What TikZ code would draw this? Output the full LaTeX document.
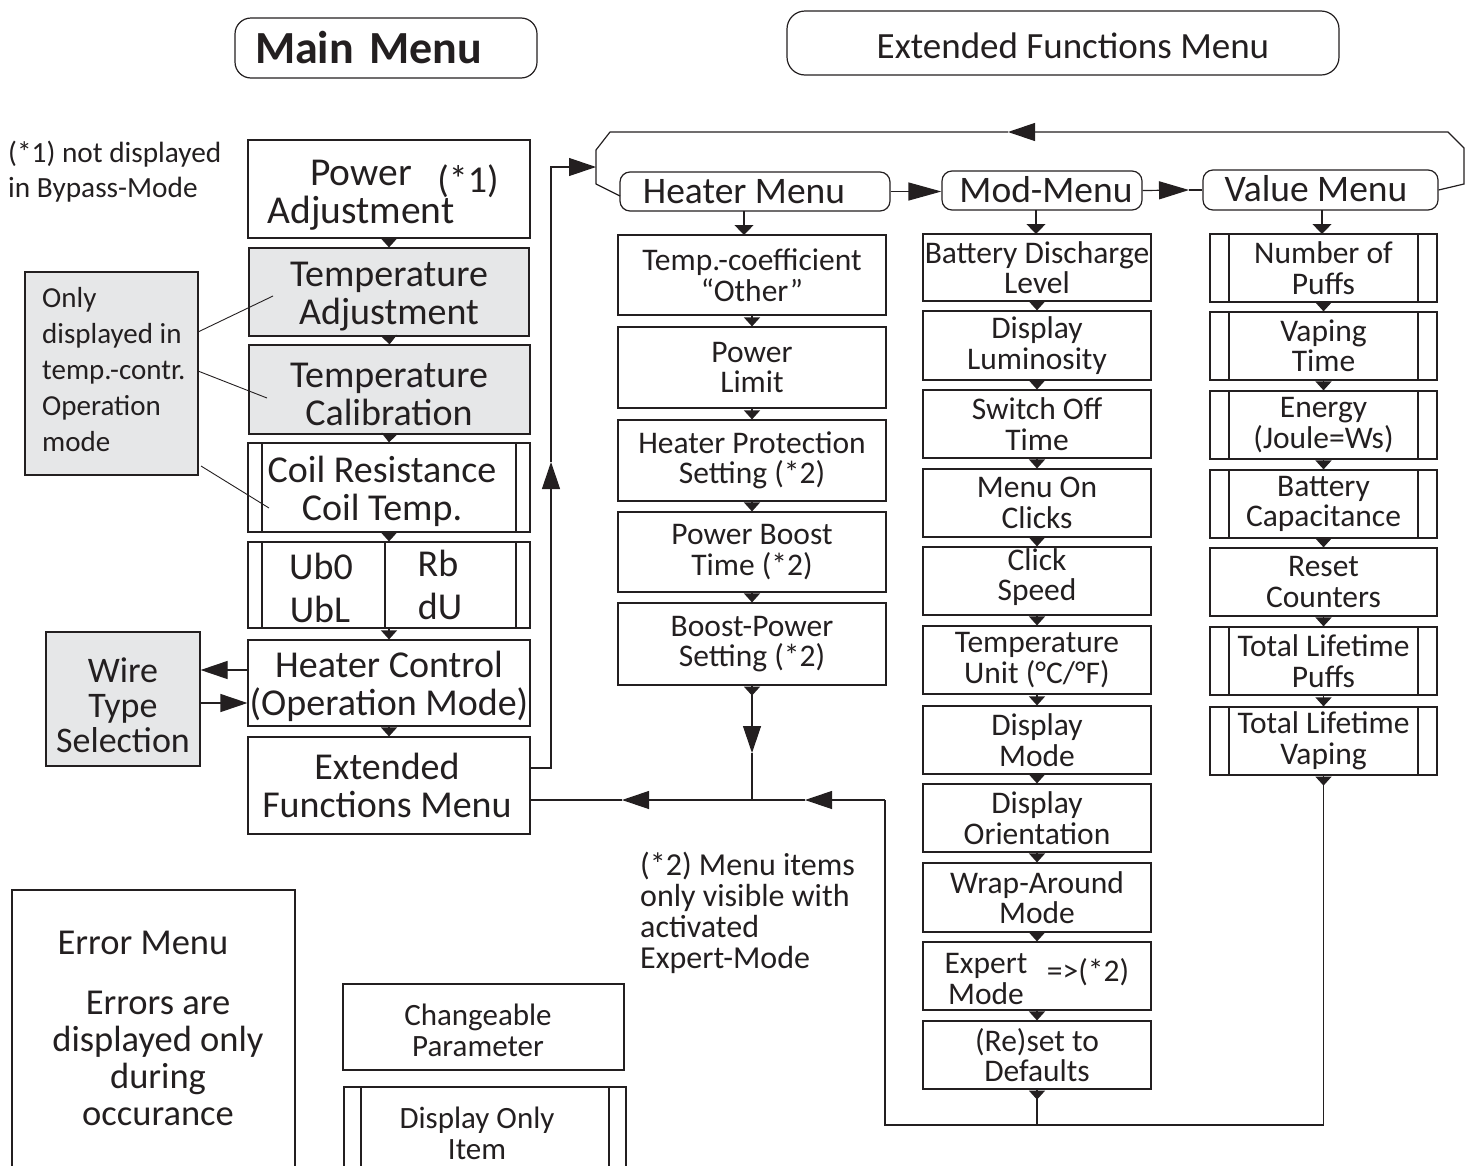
\documentclass[tikz,border=0pt]{standalone}
\usepackage{fontspec}
\setmainfont{Carlito}
\usetikzlibrary{arrows.meta,calc}
\definecolor{ink}{HTML}{231F20}
\definecolor{graybg}{HTML}{E6E7E8}
\newcommand\fntL{\fontsize{38}{38}\selectfont}
\newcommand\fntP{\fontsize{39.5}{38}\selectfont}
\newcommand\fntM{\fontsize{31.5}{30.5}\selectfont}
\newcommand\fntH{\fontsize{37.5}{37.5}\selectfont}
\newcommand\fntT{\fontsize{37}{37}\selectfont}
\newcommand\fntW{\fontsize{36}{35}\selectfont}
\newcommand\fntS{\fontsize{29.3}{35}\selectfont}
\newcommand\fntN{\fontsize{29}{36}\selectfont}
\newcommand\fntG{\fontsize{31}{31}\selectfont}
\newcommand\fntE{\fontsize{36.5}{37}\selectfont}
\newcommand\fntF{\fontsize{32}{31}\selectfont}
\newcommand\bxat[7]{\node[bx,#6,minimum width={(#4)-(#2)},minimum height={(#5)-(#3)}] (#1) at ({((#2)+(#4))/2},{((#3)+(#5))/2}) {#7};}
\tikzset{
  bx/.style={draw=ink, line width=1.2pt, inner sep=0pt, align=center, text=ink},
  txt/.style={inner sep=0pt, align=center, text=ink},
  hdr/.style={rounded corners=10pt, font=\fntH},
  dsp/.style={path picture={\draw[line width=1.2pt, draw=ink]
      ([xshift=#1]path picture bounding box.north west) -- ([xshift=#1]path picture bounding box.south west)
      ([xshift=-#1]path picture bounding box.north east) -- ([xshift=-#1]path picture bounding box.south east);}},
  ln/.style={draw=ink, line width=1.2pt},
  thinln/.style={draw=ink, line width=0.9pt},
  sm/.style={ln, -{Triangle[length=9pt,width=16pt]}},
  hd/.style={ln, -{Triangle[length=10pt,width=19pt]}},
  big/.style={ln, -{Triangle[length=27pt,width=18pt]}},
}
\begin{document}
\begin{tikzpicture}[x=1pt,y=-1pt]
\useasboundingbox (0,0) rectangle (1469,1165);

% ---- titles
\node[bx, rounded corners=16pt, minimum width=302, minimum height=60, text width=262, inner xsep=20pt, align=left, font=\fontsize{46}{46}\bfseries\selectfont] (mainT) at (386,48) {Main Menu};
\bxat{extT}{787}{11}{1339}{75}{rounded corners=18pt}{}
\node[txt, font=\fntT] (extTT) at (1073,46) {Extended Functions Menu};

% ---- main menu column
\bxat{pa}{248}{140}{530}{238}{}{}
\node[txt, font=\fntP] (paT) at (361,195) {Power\\Adjustment};
\node[txt, font=\fntL] (paS) at (468,181) {(*1)};
\bxat{ta}{249}{248}{529}{336}{fill=graybg}{}
\node[txt, font=\fntL] (taT) at (389,297) {Temperature\\Adjustment};
\bxat{tcal}{249}{345}{530}{434}{fill=graybg}{}
\node[txt, font=\fntL] (tcalT) at (389,394) {Temperature\\Calibration};
\bxat{cr}{248}{443}{530}{532}{dsp=14pt}{}
\node[txt, font=\fntL] (crT) at (382,491.5) {Coil Resistance\\Coil Temp.};
\bxat{ub}{248}{542}{530}{628}{dsp=14pt}{}
\coordinate (ubdt) at (385,542);
\coordinate (ubdb) at (385,628);
\draw[ln] (ubdt) -- (ubdb);
\node[txt, font=\fntL] (ub0) at (321,566) {Ub0};
\node[txt, font=\fntL] (ubl) at (320,609) {UbL};
\node[txt, font=\fntL] (rb) at (438,563) {Rb};
\node[txt, font=\fntL] (du) at (440,606) {dU};
\bxat{hc}{248}{640}{530}{726}{}{}
\node[txt, font=\fntL] (hcT) at (389,686.5) {Heater Control\\(Operation Mode)};
\bxat{ef}{248}{737}{530}{834}{}{}
\node[txt, font=\fntL] (efT) at (387,785) {Extended\\Functions Menu};
\bxat{wt}{46}{632}{200}{766}{fill=graybg}{}
\node[txt, font=\fntW] (wtT) at (123,705.5) {Wire\\Type\\Selection};

\foreach \a/\b in {pa/ta, ta/tcal, tcal/cr, cr/ub, ub/hc, hc/ef}
  \draw[sm] (\a.south) -- (\b.north);

% wire type arrows
\coordinate (hcw1) at ([yshift=13pt]hc.west);
\coordinate (hcw2) at ([yshift=-20pt]hc.west);
\draw[big] (hcw1) -- (hcw1 -| wt.east);
\draw[big] (hcw2 -| wt.east) -- (hcw2);

% ---- notes
\node[txt, anchor=west, align=left, font=\fntS] (n1T) at (8,172) {(*1) not displayed\\in Bypass-Mode};
\bxat{nb}{25}{272}{198}{475}{fill=graybg}{}
\node[txt, anchor=west, align=left, font=\fntN] (nbT) at (42,370) {Only\\displayed in\\temp.-contr.\\Operation\\mode};
\coordinate (nl1a) at (198,332); \coordinate (nl1b) at (273,296);
\coordinate (nl2a) at (198,371); \coordinate (nl2b) at (267,398);
\coordinate (nl3a) at (201,466); \coordinate (nl3b) at (269,508);
\draw[thinln] (nl1a) -- (nl1b);
\draw[thinln] (nl2a) -- (nl2b);
\draw[thinln] (nl3a) -- (nl3b);

% ---- sub-menu headers
\bxat{hm}{620}{172}{890}{211}{hdr}{}
\node[txt, font=\fntH] (hmT) at (744,192) {Heater Menu};
\bxat{mm}{942}{171}{1142}{210}{hdr}{}
\node[txt, font=\fntH] (mmT) at (1046,190) {Mod-Menu};
\bxat{vm}{1203}{170}{1438}{210}{hdr}{}
\node[txt, font=\fntH] (vmT) at (1316,189) {Value Menu};

% ---- heater column
\bxat{tc}{618}{235}{886}{315}{font=\fntM}{Temp.-coefficient\\“Other”}
\bxat{pl}{618}{327}{886}{408}{font=\fntM}{Power\\Limit}
\bxat{hp}{618}{420}{886}{501}{font=\fntM}{Heater Protection\\Setting (*2)}
\bxat{pb}{618}{512}{886}{592}{font=\fntM}{Power Boost\\Time (*2)}
\bxat{bp}{618}{603}{886}{685}{font=\fntM}{Boost-Power\\Setting (*2)}
\foreach \a/\b in {tc/pl, pl/hp, hp/pb, pb/bp}
  \draw[sm] (\a.south) -- (\b.north);

% ---- mod column
\bxat{bd}{923}{234}{1151}{301}{font=\fntM}{Battery Discharge\\Level}
\bxat{dl}{923}{311}{1151}{380}{font=\fntM}{Display\\Luminosity}
\bxat{so}{923}{390}{1151}{458}{font=\fntM}{Switch Off\\Time}
\bxat{mo}{923}{469}{1151}{537}{font=\fntM}{Menu On\\Clicks}
\bxat{cs}{923}{547}{1151}{615}{}{}
\node[txt, font=\fntM] (csT) at (1037,577) {Click\\Speed};
\bxat{tu}{923}{626}{1151}{694}{font=\fntM}{Temperature\\Unit (°C/°F)}
\bxat{dm}{923}{706}{1151}{774}{font=\fntM}{Display\\Mode}
\bxat{do}{923}{784}{1151}{852}{font=\fntM}{Display\\Orientation}
\bxat{wa}{923}{863}{1151}{932}{font=\fntM}{Wrap-Around\\Mode}
\bxat{em}{923}{942}{1151}{1010}{}{}
\node[txt, font=\fntM] (emT) at (986,979) {Expert\\Mode};
\node[txt, font=\fntM] (emS) at (1088,972) {=>(*2)};
\bxat{rd}{923}{1021}{1151}{1089}{font=\fntM}{(Re)set to\\Defaults}
\foreach \a/\b in {bd/dl, dl/so, so/mo, mo/cs, cs/tu, tu/dm, dm/do, do/wa, wa/em, em/rd}
  \draw[sm] (\a.south) -- (\b.north);

% ---- value column
\bxat{np}{1210}{234}{1437}{302}{dsp=19pt, font=\fntM}{Number of\\Puffs}
\bxat{vt}{1210}{312}{1437}{380}{dsp=19pt, font=\fntM}{Vaping\\Time}
\bxat{en}{1210}{391}{1437}{459}{dsp=19pt, font=\fntM}{Energy\\(Joule=Ws)}
\bxat{bc}{1210}{470}{1437}{538}{dsp=19pt, font=\fntM}{Battery\\Capacitance}
\bxat{rc}{1210}{548}{1437}{616}{font=\fntM}{Reset\\Counters}
\bxat{tlp}{1210}{627}{1437}{695}{dsp=19pt, font=\fntM}{Total Lifetime\\Puffs}
\bxat{tlv}{1210}{707}{1437}{775}{dsp=19pt, font=\fntM}{Total Lifetime\\Vaping}
\foreach \a/\b in {np/vt, vt/en, en/bc, bc/rc, rc/tlp, tlp/tlv}
  \draw[sm] (\a.south) -- (\b.north);

% ---- header arrows
\coordinate (hmA) at (744,211); \coordinate (hmB) at (744,235);
\coordinate (mmA) at (1036,210); \coordinate (mmB) at (1036,234);
\coordinate (vmA) at (1322,210); \coordinate (vmB) at (1322,234);
\draw[hd] (hmA) -- (hmB);
\draw[hd] (mmA) -- (mmB);
\draw[hd] (vmA) -- (vmB);

\draw[big, -{Triangle[length=33pt,width=18pt]}] (hm.east) -- (hm.east -| mm.west);
\coordinate (mvT) at (1189,190);
\draw[big, -{Triangle[length=30pt,width=18pt]}] (mm.east) -- (mvT);
\draw[ln] (mvT) -- (vm.west);

% ---- loop bracket
\coordinate (br1) at (1464,184);
\coordinate (br2) at (1464,148);
\coordinate (br3) at (1448,132);
\coordinate (brT) at (1008,132);
\coordinate (br4) at (610,132);
\coordinate (br5) at (596,150);
\coordinate (br6) at (596,184);
\coordinate (br7) at (620,196);
\draw[big] (vm.east) -- (br1) -- (br2) -- (br3) -- (brT);
\draw[ln, line join=round] (brT) -- (br4) -- (br5) -- (br6) -- (br7);

% ---- entry from extended functions menu
\coordinate (vUp) at (551,462);
\coordinate (vTop) at (551,167);
\coordinate (brIn) at (596,167);
\draw[big] ([yshift=17.5pt]ef.east) -| (vUp);
\draw[big] (vUp) -- (vTop) -- (brIn);

% ---- return path
\coordinate (bl) at (885,1125);
\coordinate (jr) at (885,800);
\coordinate (a1) at (805,800);
\coordinate (jn) at (752,800);
\coordinate (a2) at (752,753);
\coordinate (a3) at (622,800);
\draw[sm] (bp.south) -- ([yshift=-10pt]bp.south);
\draw[sm] (rd.south) -- ([yshift=-10pt]rd.south);
\draw[sm] (tlv.south) -- ([yshift=-10pt]tlv.south);
\draw[ln] (tlv.south) |- (bl) -- (jr);
\draw[ln] (rd.south) -- (rd.south |- bl);
\draw[big] (jr) -- (a1);
\draw[ln] (a1) -- (jn);
\draw[big] (bp.south) -- (a2);
\draw[ln] (a2) -- (jn);
\draw[big] (jn) -- (a3);
\draw[ln] (a3) -- ([yshift=-14.5pt]ef.east);

% ---- footnote (*2)
\node[txt, anchor=west, align=left, font=\fntF] (fn2) at (640,913) {(*2) Menu items\\only visible with\\activated\\Expert-Mode};

% ---- legend / error menu
\bxat{err}{12}{890}{295}{1200}{}{}
\node[txt, font=\fntE] (errT) at (143,943) {Error Menu};
\node[txt, font=\fntE] (errS) at (158,1058) {Errors are\\displayed only\\during\\occurance};
\bxat{chg}{343}{984}{624}{1070}{}{}
\node[txt, font=\fntG] (chgT) at (478,1030) {Changeable\\Parameter};
\bxat{dsi}{344}{1087}{626}{1200}{dsp=17pt}{}
\node[txt, font=\fntG] (dsiT) at (477,1133) {Display Only\\Item};
\end{tikzpicture}
\end{document}
